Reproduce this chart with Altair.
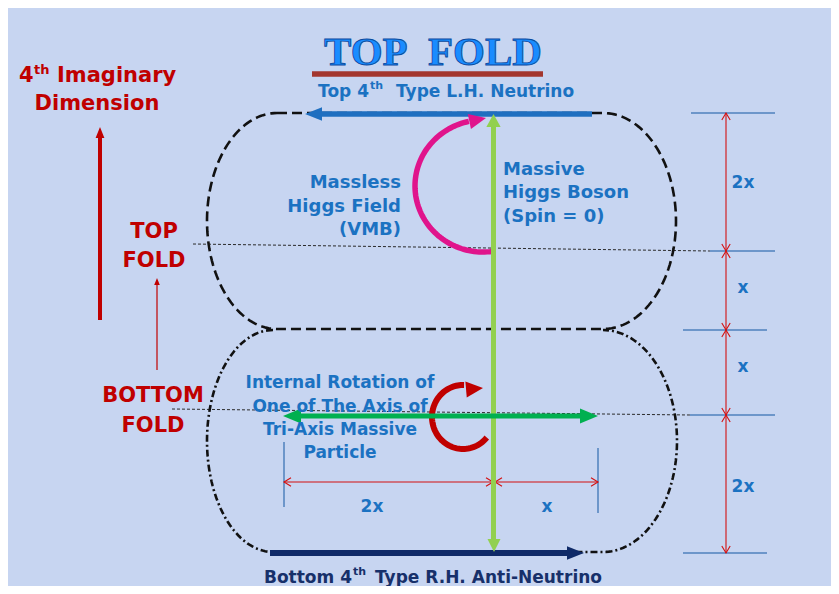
import altair as alt
import numpy as np
import pandas as pd

# ---------------- canvas (picture pixel coordinates) ----------------
X_DOMAIN = [8, 831]
Y_DOMAIN = [8, 586]
BG = "#c7d5f1"

RED = "#c00000"
BLUE_TXT = "#1b72c2"
BLUE_ARROW = "#1f6fc0"
NAVY_TXT = "#17306a"
NAVY_ARROW = "#0f2a68"
LGREEN = "#92d050"
GREEN = "#00b050"
MAGENTA = "#e0148c"
BAR = "#a3362e"
DIM_BLUE = "#4f81bd"
DIM_RED = "#d41010"

# ---------------- texts ----------------
title_text = ["TOP\u00a0\u00a0FOLD"]
title_x = [433]
title_y = [65]

# text, x, y(baseline), size, color
texts_center = [
    ("Dimension", 97, 110, 21, RED),
    ("TOP", 154, 238, 21, RED),
    ("FOLD", 154, 267, 21, RED),
    ("BOTTOM", 153, 402, 21, RED),
    ("FOLD", 153, 432, 21, RED),
    ("Internal Rotation of", 340, 388, 17, BLUE_TXT),
    ("One of The Axis of", 340, 412, 17, BLUE_TXT),
    ("Tri-Axis Massive", 340, 435, 17, BLUE_TXT),
    ("Particle", 340, 458, 17, BLUE_TXT),
    ("2x", 372, 512, 17, BLUE_TXT),
    ("x", 547, 512, 17, BLUE_TXT),
    ("2x", 743, 188, 17, BLUE_TXT),
    ("x", 743, 293, 17, BLUE_TXT),
    ("x", 743, 372, 17, BLUE_TXT),
    ("2x", 743, 492, 17, BLUE_TXT),
]
texts_left = [
    ("4", 19, 82, 21, RED),
    ("th", 34, 74, 13, RED),
    ("Imaginary", 57, 82, 21, RED),
    ("Massive", 503, 175, 18, BLUE_TXT),
    ("Higgs Boson", 503, 198, 18, BLUE_TXT),
    ("(Spin = 0)", 503, 222, 18, BLUE_TXT),
    ("th", 370, 89, 11, BLUE_TXT),
    ("Type L.H. Neutrino", 396, 97, 17, BLUE_TXT),
    ("th", 353, 575, 11, NAVY_TXT),
    ("Type R.H. Anti-Neutrino", 375, 583, 17, NAVY_TXT),
]
texts_right = [
    ("Massless", 401, 188, 18, BLUE_TXT),
    ("Higgs Field", 401, 212, 18, BLUE_TXT),
    ("(VMB)", 401, 235, 18, BLUE_TXT),
    ("Top 4", 369, 97, 17, BLUE_TXT),
    ("Bottom 4", 352, 583, 17, NAVY_TXT),
]

# ---------------- straight strokes: x1, y1, x2, y2, color, width ----------------
shafts_back = [
    (312, 74, 543, 74, BAR, 5.5),            # title underline
    (318, 114, 592, 114, BLUE_ARROW, 5.5),   # top L.H. neutrino arrow
    (270, 553, 569, 553, NAVY_ARROW, 6),     # bottom R.H. anti-neutrino arrow
    (100, 137, 100, 320, RED, 4),            # 4th imaginary dimension
    (157, 284, 157, 370, RED, 1.2),          # bottom fold -> top fold
]
shafts_front = [
    (493.5, 126, 493.5, 541, LGREEN, 5),     # massive higgs boson
    (298, 416, 582, 416, GREEN, 5),          # tri-axis rotation axis
]
fold_lines = [
    (193, 244, 710, 251),
    (172, 409, 690, 415),
]
dim_ticks = [
    (691, 113, 775, 113),
    (710, 251, 775, 251),
    (683, 330, 767, 330),
    (690, 415, 775, 415),
    (683, 553, 767, 553),
    (284, 442, 284, 507),
    (598, 448, 598, 513),
]
dim_lines = [
    (726, 113, 726, 553),
    (284, 482, 598, 482),
]
# dimension chevrons: x, y, direction angle
chevrons = [
    (726, 113, 270), (726, 251, 90), (726, 251, 270), (726, 330, 90),
    (726, 330, 270), (726, 415, 90), (726, 415, 270), (726, 553, 90),
    (284, 482, 180), (493, 482, 0), (495, 482, 180), (598, 482, 0),
]
# arrow heads: tip x, tip y, angle, length, half-width ratio, color
heads = [
    (305, 114, 180, 17, 0.40, BLUE_ARROW),
    (584, 553, 0, 17, 0.40, NAVY_ARROW),
    (100, 127, 270, 11, 0.40, RED),
    (157, 278, 270, 7, 0.40, RED),
    (486, 118, 348, 17, 0.45, MAGENTA),
    (483, 388, 355, 17, 0.47, RED),
    (493.5, 114, 270, 13, 0.55, LGREEN),
    (494, 552, 90, 13, 0.50, LGREEN),
    (283, 416, 180, 18, 0.42, GREEN),
    (598, 416, 0, 18, 0.42, GREEN),
]

# ---------------- curved outlines: segments ("L", x1, y1, x2, y2) or ellipse arcs ("E", cx, cy, rx, ry, t0, t1) ----------------
top_lobe = [
    ("L", 277, 113, 603, 113),
    ("E", 603, 221, 73, 108, -90, 90),
    ("L", 603, 329, 277, 329),
    ("E", 277, 221, 70, 108, 90, 270),
]
bottom_lobe = [
    ("E", 273, 441, 66, 111, 270, 90),
    ("L", 273, 552, 600, 552),
    ("E", 603, 441, 74, 111, 90, -90),
]
magenta_arc = [("E", 483, 186, 68, 66, 82, 258)]
red_arc = [("E", 463, 417, 31, 32, 40, 272)]


def path_df(parts):
    xs, ys = [], []
    for p in parts:
        if p[0] == "L":
            xs += [p[1], p[3]]
            ys += [p[2], p[4]]
        else:
            _, cx, cy, rx, ry, t0, t1 = p
            t = np.radians(np.linspace(t0, t1, 80))
            xs += list(cx + rx * np.cos(t))
            ys += list(cy + ry * np.sin(t))
    return pd.DataFrame({"x": xs, "y": ys, "i": range(len(xs))})


XS = alt.Scale(domain=X_DOMAIN, zero=False, nice=False)
YS = alt.Scale(domain=Y_DOMAIN, zero=False, nice=False, reverse=True)


def X(f="x"):
    return alt.X(f"{f}:Q", scale=XS, axis=None)


def Y(f="y"):
    return alt.Y(f"{f}:Q", scale=YS, axis=None)


def rules(rows, color=None, width=None, dash=None):
    df = pd.DataFrame(rows, columns=["x", "y", "x2", "y2", "c", "w"][: len(rows[0])])
    props = {}
    if dash:
        props["strokeDash"] = dash
    if color:
        props["color"] = color
    if width:
        props["strokeWidth"] = width
    enc = dict(x=X(), y=Y(), x2="x2:Q", y2="y2:Q")
    if "c" in df:
        enc["color"] = alt.Color("c:N", scale=None)
        enc["strokeWidth"] = alt.StrokeWidth("w:Q", scale=None)
    return alt.Chart(df).mark_rule(**props).encode(**enc)


def curve(parts, color, width, dash=None):
    props = dict(color=color, strokeWidth=width, strokeCap="butt", interpolate="linear")
    if dash:
        props["strokeDash"] = dash
    return alt.Chart(path_df(parts)).mark_line(**props).encode(
        x=X(), y=Y(), order=alt.Order("i:Q")
    )


def text_layer(rows, align):
    df = pd.DataFrame(rows, columns=["t", "x", "y", "s", "c"])
    return alt.Chart(df).mark_text(
        align=align, baseline="alphabetic", font="DejaVu Sans", fontWeight="bold"
    ).encode(
        x=X(), y=Y(), text="t:N",
        size=alt.Size("s:Q", scale=None),
        color=alt.Color("c:N", scale=None),
    )


chev_df = pd.DataFrame(chevrons, columns=["x", "y", "a"])
chev_layer = alt.Chart(chev_df).mark_point(
    shape="M-1,-0.6L0,0L-1,0.6", filled=False, opacity=1, size=196,
    color=DIM_RED, strokeWidth=1.1,
).encode(x=X(), y=Y(), angle=alt.Angle("a:Q", scale=None))

head_df = pd.DataFrame(heads, columns=["x", "y", "a", "L", "r", "c"])
head_df["size"] = (2 * head_df["L"]) ** 2
head_df["shape"] = [f"M0,0L-1,{-r}L-1,{r}Z" for r in head_df["r"]]
head_layer = alt.Chart(head_df).mark_point(filled=True, opacity=1, strokeWidth=0).encode(
    x=X(), y=Y(),
    angle=alt.Angle("a:Q", scale=None),
    size=alt.Size("size:Q", scale=None),
    shape=alt.Shape("shape:N", scale=None),
    color=alt.Color("c:N", scale=None),
)

title_df = pd.DataFrame({"t": title_text, "x": title_x, "y": title_y})
title_layer = alt.Chart(title_df).mark_text(
    align="center", baseline="alphabetic", font="Liberation Serif", fontWeight="bold",
    fontSize=41, color="#1a8cff", stroke="#0b4a9e", strokeWidth=0.9,
).encode(x=X(), y=Y(), text="t:N")

layers = [
    rules(fold_lines, color="#2a2a2a", width=1, dash=[3, 2]),
    curve(top_lobe, "#111111", 2.6, dash=[10, 5]),
    curve(bottom_lobe, "#111111", 2.6, dash=[7, 3, 2, 3]),
    rules(dim_ticks, color=DIM_BLUE, width=1.5),
    rules(dim_lines, color=DIM_RED, width=1.1),
    chev_layer,
    rules(shafts_back),
    curve(magenta_arc, MAGENTA, 5.5),
    curve(red_arc, RED, 6),
    rules(shafts_front),
    head_layer,
    title_layer,
    text_layer(texts_center, "center"),
    text_layer(texts_left, "left"),
    text_layer(texts_right, "right"),
]

chart = alt.layer(*layers).properties(
    width=X_DOMAIN[1] - X_DOMAIN[0],
    height=Y_DOMAIN[1] - Y_DOMAIN[0],
    background=BG,
    padding=0,
    autosize=alt.AutoSizeParams(type="none"),
).configure_view(stroke=None)

chart.save("out.html", embed_options={"renderer": "svg", "actions": False})
